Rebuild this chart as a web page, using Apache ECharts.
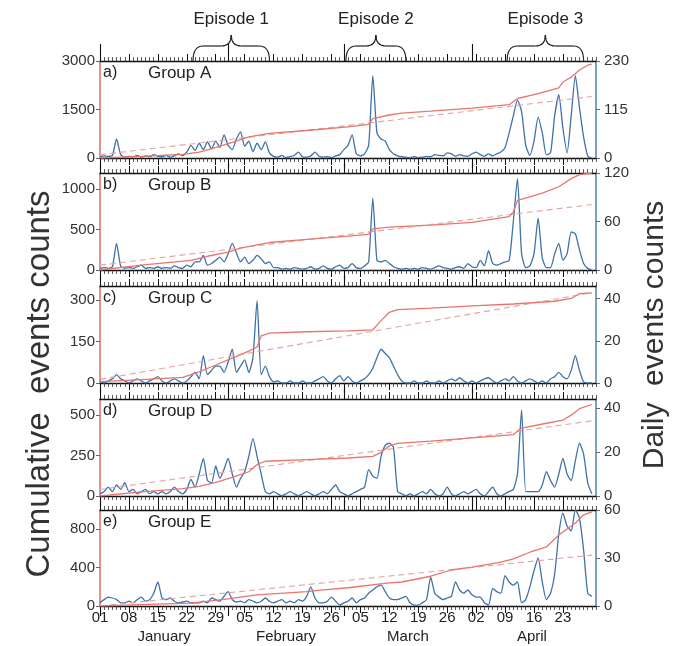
<!DOCTYPE html>
<html><head><meta charset="utf-8">
<script src="https://cdn.jsdelivr.net/npm/echarts@6/dist/echarts.min.js"></script>
<style>html,body{margin:0;padding:0;background:#fff}#c{width:673px;height:646px}</style>
</head><body><div id="c"></div>
<script>
// ---------- data ----------
const groupNames = ['Group A','Group B','Group C','Group D','Group E'];
const panelTags = ['a)','b)','c)','d)','e)'];

// daily event counts, day 0 = 01 January ... day 119 = 30 April
const dailyA = [3,5,4,6,45,8,2,4,3,6, 2,5,3,8,4,3,6,2,5,10, 6,14,30,18,35,20,38,22,40,25,
  55,30,20,45,62,28,40,15,35,20, 38,12,4,2,6,1,3,6,14,3, 2,5,14,4,2,3,1,5,8,20,
  30,55,10,5,10,30,195,60,45,40, 20,10,5,3,2,1,3,1,2,4, 3,8,6,5,12,10,4,8,5,4,
  10,14,8,4,10,5,10,14,25,60, 100,137,110,30,6,40,97,60,8,12, 100,150,70,12,100,195,120,50,5,0];
const dailyB = [2,3,2,4,33,5,2,3,2,4, 6,2,3,2,4,2,3,2,5,3, 2,6,4,10,10,18,6,8,12,16,
  10,20,33,21,10,16,8,12,18,14, 8,10,3,3,1,2,1,3,2,1, 2,4,1,2,5,2,1,4,6,2,
  3,8,3,2,5,10,89,12,10,12, 8,4,2,1,2,1,2,1,3,2, 1,3,5,3,2,1,3,4,2,8,
  4,3,12,5,24,8,6,8,10,12, 60,113,20,3,5,20,64,15,3,3, 20,33,12,20,47,45,25,8,2,0];
const dailyC = [1,0,1,2,4,2,1,0,1,2, 1,0,1,2,3,1,0,1,2,1, 0,1,3,5,2,13,4,6,8,8,
  5,10,16,5,8,11,5,12,39,4, 8,3,0.5,1,0,0,1,0,0,1, 0,0,1,2,3,1,0,2,3.5,1,
  3,1,0,1,2,4,7,12,16,14, 12,8,4,1,0,0,1,0,0,1, 0,0,1,0,1,2,1,2.5,1,0,
  1,0,1,2,2.5,1,0,1,2,1, 3,1,0,1,2,1,0,1,0,2, 3,5,3,2,6,13,6,0.5,0,0];
const dailyD = [1,2,4,2,5,3,6,2,3,1, 2,3,1,2,1,2,1,2,4,2, 1,3,7.5,4,10,17,7,6,13.6,8,
  12,17,10,4,8,11,18,26,18,10, 2,1,2,1,0,1,2,1,0,1, 2,1,0,1,2,1,3,5,2,1,
  0,1,2,3,4,12,9,8,18,23, 24,22,2,1,0,1,0,1,2,1, 3,1,0,1,4,1,0,1,2,1,
  2,3,1,0,2,4,1,0,1,2, 3,10,39,2,2,2,2,5,11,7, 4,10,17,10,7,16,24,19,6,1];
const dailyE = [2,4,5.6,5,4,2,2,3,2,4, 5.6,3,4,8,15,5,4,5,3,2, 2.5,3,2,2,2,3,2,5,4,3,
  6,9,4,2.5,3,2,4,3,2,3, 5,3,2,3,4,2,3,2,4,3, 6,12,5,2,2,3,5.6,3,0.6,2,
  3,5,2,4,5,8,10,12,13,9, 5,4,4,5,6,2,0.6,0.6,2,4, 18,8,5.6,4,5,6,15,10,8,10,
  7,5.6,5.6,2,0.6,11,9,8,19,15, 13,15,2,4,12,22,30,15,4,8, 20,45,58,50,47,60,55,35,8,6];

// cumulative event counts, [day, count]
const cumA = [[0,0],[10,50],[20,110],[24,180],[28,320],[32,480],[36,650],[41,760],[50,850],[60,960],[65,1040],[66,1220],[70,1330],[73,1390],[80,1450],[90,1540],[99,1650],[101,1840],[106,1990],[111,2170],[112,2350],[114,2500],[116,2720],[118,2870],[119,2900]];
const cumB = [[0,0],[10,60],[22,120],[26,170],[31,220],[34,270],[38,310],[41,340],[50,380],[60,420],[65,440],[66,510],[70,530],[80,555],[90,590],[99,660],[100,720],[101,860],[105,920],[107,950],[111,1030],[114,1130],[116,1180],[119,1200]];
const cumC = [[0,5],[10,12],[20,20],[24,40],[28,65],[32,90],[36,115],[38,130],[39,170],[41,180],[50,185],[60,188],[66,192],[68,225],[70,255],[72,265],[80,270],[90,278],[100,285],[110,295],[114,305],[116,322],[119,325]];
const cumD = [[0,0],[10,25],[20,45],[24,60],[28,85],[32,115],[36,150],[38,195],[40,215],[50,225],[60,235],[66,245],[68,270],[70,310],[72,325],[80,340],[90,360],[100,380],[102,420],[108,450],[112,470],[114,500],[116,540],[119,566]];
const cumE = [[0,0],[10,15],[22,30],[30,70],[38,115],[50,150],[54,167],[60,190],[70,240],[73,250],[80,310],[85,375],[90,405],[97,458],[100,490],[104,560],[108,615],[111,740],[115,865],[117,950],[119,980]];

// linear trend of cumulative counts, [day, count]
const trendA = [[0,100],[119,1900]];
const trendB = [[0,60],[119,810]];
const trendC = [[0,13],[119,326]];
const trendD = [[0,40],[119,465]];
const trendE = [[0,0],[119,530]];

// axes
const leftMax = [3000,1200,350,600,1000];
const leftTicks = [[0,1500,3000],[0,500,1000],[0,150,300],[0,250,500],[0,400,800]];
const rightMax = [230,120,46,44,60];
const rightTicks = [[0,115,230],[0,60,120],[0,20,40],[0,20,40],[0,30,60]];
const xTickDays = [0,7,14,21,28,35,42,49,56,63,70,77,84,91,98,105,112];
const xTickLabels = ['01','08','15','22','29','05','12','19','26','05','12','19','26','02','09','16','23'];
const monthStartDays = [0,31,59,90];
const monthNames = ['January','February','March','April'];
const monthCenterDays = [15.5,45,74.5,104.5];

// episodes (days)
const episodeNames = ['Episode 1','Episode 2','Episode 3'];
const episodeStart = [22.5,59.5,98.5];
const episodeEnd = [41,74,117];

// ---------- chart ----------
const daily = [dailyA,dailyB,dailyC,dailyD,dailyE];
const cum = [cumA,cumB,cumC,cumD,cumE];
const trend = [trendA,trendB,trendC,trendD,trendE];

const FONT = 'Liberation Sans, Arial, Helvetica, sans-serif';
const gridTop = [61,173,286,399,510];
const gridH = [97,97,97,97,96];
const BLUE = '#3f72a9', RED = '#e8766c', DASH = '#e3a59d';

const grids = [], xAxes = [], yAxes = [], series = [], dayAxisIdx = [];
for (let g = 0; g < 5; g++) {
  grids.push({left:100, right:77, top:gridTop[g], height:gridH[g]});
  ['bottom','top'].forEach(pos => {
    if (pos === 'bottom') dayAxisIdx.push(xAxes.length);
    xAxes.push({gridIndex:g, type:'value', position:pos, min:0, max:120, interval:1,
      axisLine:{show:true, onZero:false, lineStyle:{color:'#111', width:1.3}},
      axisTick:{show:true, inside:false, length:4, lineStyle:{color:'#333', width:0.8}},
      axisLabel:{show:false}, splitLine:{show:false}});
    const lab = (g === 4 && pos === 'bottom');
    xAxes.push({gridIndex:g, type:'value', position:pos, min:0, max:120,
      axisLine:{show:false, onZero:false},
      axisTick:{show:true, length:7, customValues:xTickDays, lineStyle:{color:'#111', width:1}},
      axisLabel:{show:lab, customValues:xTickDays, fontSize:15, color:'#222', margin:4, fontFamily:FONT,
        formatter: v => xTickLabels[xTickDays.indexOf(v)]},
      splitLine:{show:false}});
    xAxes.push({gridIndex:g, type:'value', position:pos, min:0, max:120,
      axisLine:{show:false, onZero:false},
      axisTick:{show:true, length:(g === 0 && pos === 'top') ? 17 : 10, customValues:monthStartDays, lineStyle:{color:'#111', width:1.1}},
      axisLabel:{show:false}, splitLine:{show:false}});
  });
  if (g === 4) {
    xAxes.push({gridIndex:g, type:'value', position:'bottom', min:0, max:120,
      axisLine:{show:false, onZero:false}, axisTick:{show:false},
      axisLabel:{customValues:monthCenterDays, fontSize:15, color:'#222', margin:23, fontFamily:FONT,
        formatter: v => monthNames[monthCenterDays.indexOf(v)]},
      splitLine:{show:false}});
  }
  yAxes.push({gridIndex:g, type:'value', position:'left', min:0, max:leftMax[g],
    axisLine:{show:true, onZero:false, lineStyle:{color:'#e66a62', width:1.5}},
    axisTick:{show:true, customValues:leftTicks[g], length:4, lineStyle:{color:'#666'}},
    axisLabel:{customValues:leftTicks[g], fontSize:15, color:'#333', margin:5, fontFamily:FONT,
      formatter: v => String(v)},
    splitLine:{show:false}});
  yAxes.push({gridIndex:g, type:'value', position:'right', min:0, max:rightMax[g],
    axisLine:{show:true, onZero:false, lineStyle:{color:'#4f7fb2', width:1.5}},
    axisTick:{show:true, customValues:rightTicks[g], length:4, lineStyle:{color:'#666'}},
    axisLabel:{customValues:rightTicks[g], fontSize:15, color:'#333', margin:8, fontFamily:FONT,
      formatter: v => String(v)},
    splitLine:{show:false}});

  series.push({type:'line', xAxisIndex:dayAxisIdx[g], yAxisIndex:2*g+1,
    data: daily[g].map((v,i) => [i,v]), symbol:'none', smooth:0.2,
    lineStyle:{color:BLUE, width:1.3}, z:2});
  series.push({type:'line', xAxisIndex:dayAxisIdx[g], yAxisIndex:2*g,
    data: trend[g], symbol:'none', lineStyle:{color:DASH, width:1.1, type:[6,4]}, z:3});
  series.push({type:'line', xAxisIndex:dayAxisIdx[g], yAxisIndex:2*g,
    data: cum[g], symbol:'none', lineStyle:{color:RED, width:1.3}, z:4});
}

const chart = echarts.init(document.getElementById('c'));
chart.setOption({animation:false, textStyle:{fontFamily:FONT},
  grid:grids, xAxis:xAxes, yAxis:yAxes, series:series});

// annotations
const gfx = [];
for (let g = 0; g < 5; g++) {
  gfx.push({type:'text', x:103, y:gridTop[g]+12, style:{text:panelTags[g], fontSize:16, fill:'#222', fontFamily:FONT, textVerticalAlign:'middle'}});
  gfx.push({type:'text', x:148, y:gridTop[g]+12, style:{text:groupNames[g], fontSize:17, fill:'#222', fontFamily:FONT, textVerticalAlign:'middle'}});
}
gfx.push({type:'text', x:40, y:384, rotation:Math.PI/2,
  style:{text:'Cumulative  events counts', fontSize:33, fill:'#333', fontFamily:FONT, textAlign:'center', textVerticalAlign:'middle'}});
gfx.push({type:'text', x:655, y:335, rotation:Math.PI/2,
  style:{text:'Daily  events counts', fontSize:30, fill:'#333', fontFamily:FONT, textAlign:'center', textVerticalAlign:'middle'}});

const yb = gridTop[0], ym = 46, yt = 35, r = 10;
const braceStyle = {fill:null, stroke:'#222', lineWidth:1.2};
for (let e = 0; e < episodeNames.length; e++) {
  const x1 = chart.convertToPixel({xAxisIndex:dayAxisIdx[0]}, episodeStart[e]);
  const x2 = chart.convertToPixel({xAxisIndex:dayAxisIdx[0]}, episodeEnd[e]);
  const xc = (x1 + x2) / 2;
  gfx.push({type:'bezierCurve', shape:{x1:x1, y1:yb, x2:x1+r, y2:ym, cpx1:x1, cpy1:ym}, style:braceStyle});
  gfx.push({type:'line', shape:{x1:x1+r, y1:ym, x2:xc-r, y2:ym}, style:braceStyle});
  gfx.push({type:'bezierCurve', shape:{x1:xc-r, y1:ym, x2:xc, y2:yt, cpx1:xc, cpy1:ym}, style:braceStyle});
  gfx.push({type:'bezierCurve', shape:{x1:xc, y1:yt, x2:xc+r, y2:ym, cpx1:xc, cpy1:ym}, style:braceStyle});
  gfx.push({type:'line', shape:{x1:xc+r, y1:ym, x2:x2-r, y2:ym}, style:braceStyle});
  gfx.push({type:'bezierCurve', shape:{x1:x2-r, y1:ym, x2:x2, y2:yb, cpx1:x2, cpy1:ym}, style:braceStyle});
  gfx.push({type:'text', x:xc, y:19, style:{text:episodeNames[e], fontSize:17, fill:'#222', fontFamily:FONT, textAlign:'center', textVerticalAlign:'middle'}});
}
chart.setOption({graphic:gfx});
</script>
</body></html>
